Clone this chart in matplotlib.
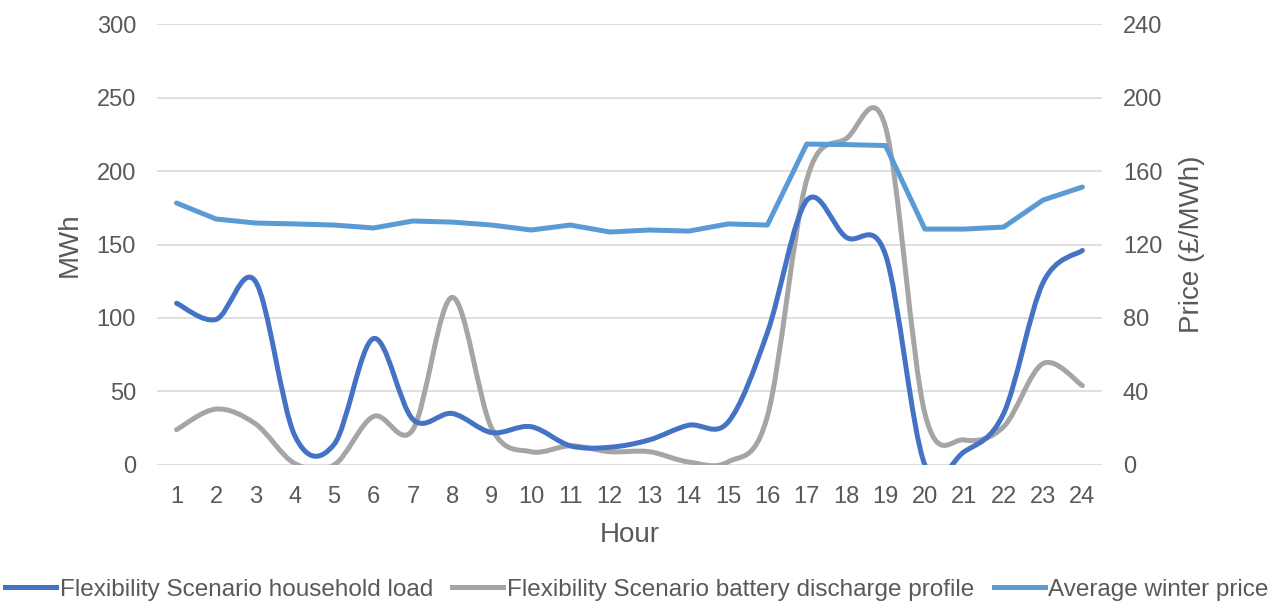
import numpy as np
import matplotlib
matplotlib.use("Agg")
import matplotlib.pyplot as plt
from matplotlib.path import Path
from matplotlib.patches import PathPatch
from matplotlib.lines import Line2D

plt.rcParams['font.family'] = ['Liberation Sans', 'DejaVu Sans']

# data
hours = list(range(1, 25))
household_load = [110, 99, 125, 20, 14, 86, 31, 35, 22, 26, 13, 12, 17, 27, 29,
                  90, 180, 155, 143, 0, 9, 35, 124, 146]
battery_discharge = [24, 38, 28, 1, 0, 33, 24, 114, 25, 9, 13, 9, 9, 2, 2,
                     33, 194, 222, 230, 35, 17, 26, 69, 54]
winter_price = [142.6, 133.9, 131.7, 131.2, 130.6, 129.0, 132.8, 132.2, 130.6, 127.9,
                130.6, 126.8, 127.9, 127.3, 131.2, 130.6, 174.7, 174.4, 173.9, 128.4,
                128.4, 129.5, 144.2, 151.3]

labels = ["Flexibility Scenario household load",
          "Flexibility Scenario battery discharge profile",
          "Average winter price"]
colors = ["#4472C4", "#A5A5A5", "#5B9BD5"]
txt = "#595959"
fs = 17


def smooth_path(xs, ys):
    # excel style smoothed line: catmull-rom converted to cubic beziers
    pts = np.column_stack([xs, ys]).astype(float)
    n = len(pts)
    verts = [pts[0]]
    codes = [Path.MOVETO]
    for i in range(n - 1):
        p0 = pts[i - 1] if i > 0 else pts[i]
        p1 = pts[i]
        p2 = pts[i + 1]
        p3 = pts[i + 2] if i + 2 < n else pts[i + 1]
        c1 = p1 + (p2 - p0) / 6.0
        c2 = p2 - (p3 - p1) / 6.0
        verts += [c1, c2, p2]
        codes += [Path.CURVE4] * 3
    return Path(verts, codes)


fig = plt.figure(figsize=(12.86, 6.03), dpi=100)
ax = fig.add_axes([0.122, 0.229, 0.735, 0.731])
ax2 = ax.twinx()

ax.set_xlim(0.5, 24.5)
ax.set_ylim(0, 300)
ax2.set_ylim(0, 240)
ax.set_yticks(range(0, 301, 50))
ax2.set_yticks(range(0, 241, 40))
ax.set_xticks(hours)

ax.grid(axis='y', color='#D9D9D9', lw=1.2)
ax.set_axisbelow(True)
for a in (ax, ax2):
    for s in a.spines.values():
        s.set_visible(False)
    a.tick_params(length=0, labelsize=fs, labelcolor=txt, pad=15)

ax.add_patch(PathPatch(smooth_path(hours, household_load), fill=False,
                       edgecolor=colors[0], lw=3.6, capstyle='round', zorder=3))
ax.add_patch(PathPatch(smooth_path(hours, battery_discharge), fill=False,
                       edgecolor=colors[1], lw=3.6, capstyle='round', zorder=2))
ax2.plot(hours, winter_price, color=colors[2], lw=3.6, solid_capstyle='round')

ax.set_xlabel("Hour", fontsize=20, color=txt, labelpad=10)
ax.set_ylabel("MWh", fontsize=20, color=txt, labelpad=10)
ax2.set_ylabel("Price (£/MWh)", fontsize=20, color=txt, labelpad=12)

handles = [Line2D([], [], color=c, lw=3.6) for c in colors]
fig.legend(handles, labels, loc='center', bbox_to_anchor=(0.4953, 0.022), ncol=3,
           frameon=False, fontsize=17.5, labelcolor=txt, handlelength=2.1,
           handletextpad=0.15, columnspacing=0.8, borderaxespad=0)

fig.savefig("out.png", dpi=100)
